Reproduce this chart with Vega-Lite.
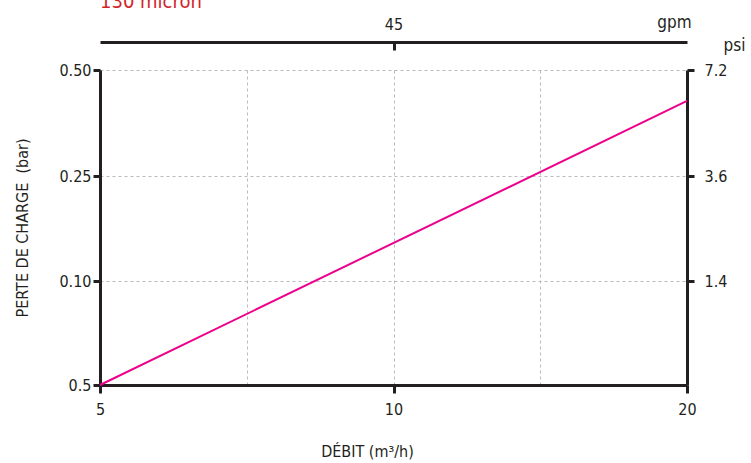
{
  "$schema": "https://vega.github.io/schema/vega-lite/v6.json",
  "width": 587,
  "height": 315,
  "autosize": {"type": "none"},
  "padding": {"left": 100, "top": 70, "right": 64, "bottom": 78},
  "background": "white",
  "config": {
    "view": {"stroke": null},
    "font": "DejaVu Sans Condensed, Liberation Sans, sans-serif",
    "axis": {
      "labelFont": "DejaVu Sans Condensed, Liberation Sans, sans-serif",
      "titleFont": "DejaVu Sans Condensed, Liberation Sans, sans-serif",
      "labelFontSize": 16,
      "titleFontSize": 16,
      "titleFontWeight": "normal",
      "labelColor": "#231f20",
      "titleColor": "#231f20",
      "domainColor": "#231f20",
      "domainWidth": 3,
      "tickColor": "#231f20",
      "tickWidth": 3,
      "tickSize": 8,
      "labelFlush": false,
      "gridColor": "#bbbbbb",
      "gridDash": [3, 3],
      "gridWidth": 1
    }
  },
  "title": {
    "text": "130 micron",
    "anchor": "start",
    "frame": "group",
    "color": "#d2232a",
    "fontSize": 20,
    "fontWeight": "normal",
    "font": "DejaVu Sans Condensed, Liberation Sans, sans-serif",
    "offset": 1
  },
  "data": {
    "values": [
      {"debit": 5, "perte": 0.05},
      {"debit": 20, "perte": 0.427}
    ]
  },
  "layer": [
    {
      "mark": {"type": "line", "color": "#ec008c", "strokeWidth": 2},
      "encoding": {
        "x": {
          "field": "debit",
          "type": "quantitative",
          "scale": {"type": "log", "domain": [5, 20], "nice": false},
          "axis": {
            "orient": "bottom",
            "values": [5, 10, 20],
            "grid": false,
            "title": "DÉBIT (m³/h)",
            "titleX": 267,
            "titlePadding": 26,
            "labelPadding": 8
          }
        },
        "y": {
          "field": "perte",
          "type": "quantitative",
          "scale": {"type": "linear", "domain": [0.05, 0.1, 0.25, 0.5], "range": [315, 211, 106, 0], "nice": false, "zero": false},
          "axis": {
            "orient": "left",
            "values": [0.05, 0.1, 0.25, 0.5],
            "labelExpr": "datum.value < 0.07 ? '0.5' : datum.value < 0.2 ? '0.10' : datum.value < 0.4 ? '0.25' : '0.50'",
            "grid": true,
            "title": "PERTE DE CHARGE\u00a0 (bar)",
            "tickSize": 7,
            "labelPadding": 2,
            "titlePadding": 28
          }
        }
      }
    },
    {
      "mark": {"type": "line", "opacity": 0},
      "encoding": {
        "x": {
          "field": "debit",
          "type": "quantitative",
          "axis": {
            "orient": "top",
            "offset": 28,
            "values": [7.0711, 10, 14.142],
            "labelExpr": "datum.value == 10 ? '45' : ''",
            "tickOpacity": {"condition": {"test": "datum.value == 10", "value": 1}, "value": 0},
            "grid": true,
            "tickSize": -8,
            "labelPadding": 18,
            "title": "gpm",
            "titleAngle": 0,
            "titleX": 574,
            "titleY": -20,
            "titleAlign": "center",
            "titleBaseline": "middle",
            "titleFontSize": 17
          }
        },
        "y": {
          "field": "perte",
          "type": "quantitative",
          "axis": {
            "orient": "right",
            "values": [0.1, 0.25, 0.5],
            "labelExpr": "datum.value < 0.2 ? '1.4' : datum.value < 0.4 ? '3.6' : '7.2'",
            "grid": false,
            "tickSize": 7,
            "labelPadding": 10,
            "title": "psi",
            "titleAngle": 0,
            "titleX": 47,
            "titleY": -25,
            "titleAlign": "center",
            "titleBaseline": "middle",
            "titleFontSize": 17
          }
        }
      }
    }
  ],
  "resolve": {"axis": {"x": "independent", "y": "independent"}}
}
